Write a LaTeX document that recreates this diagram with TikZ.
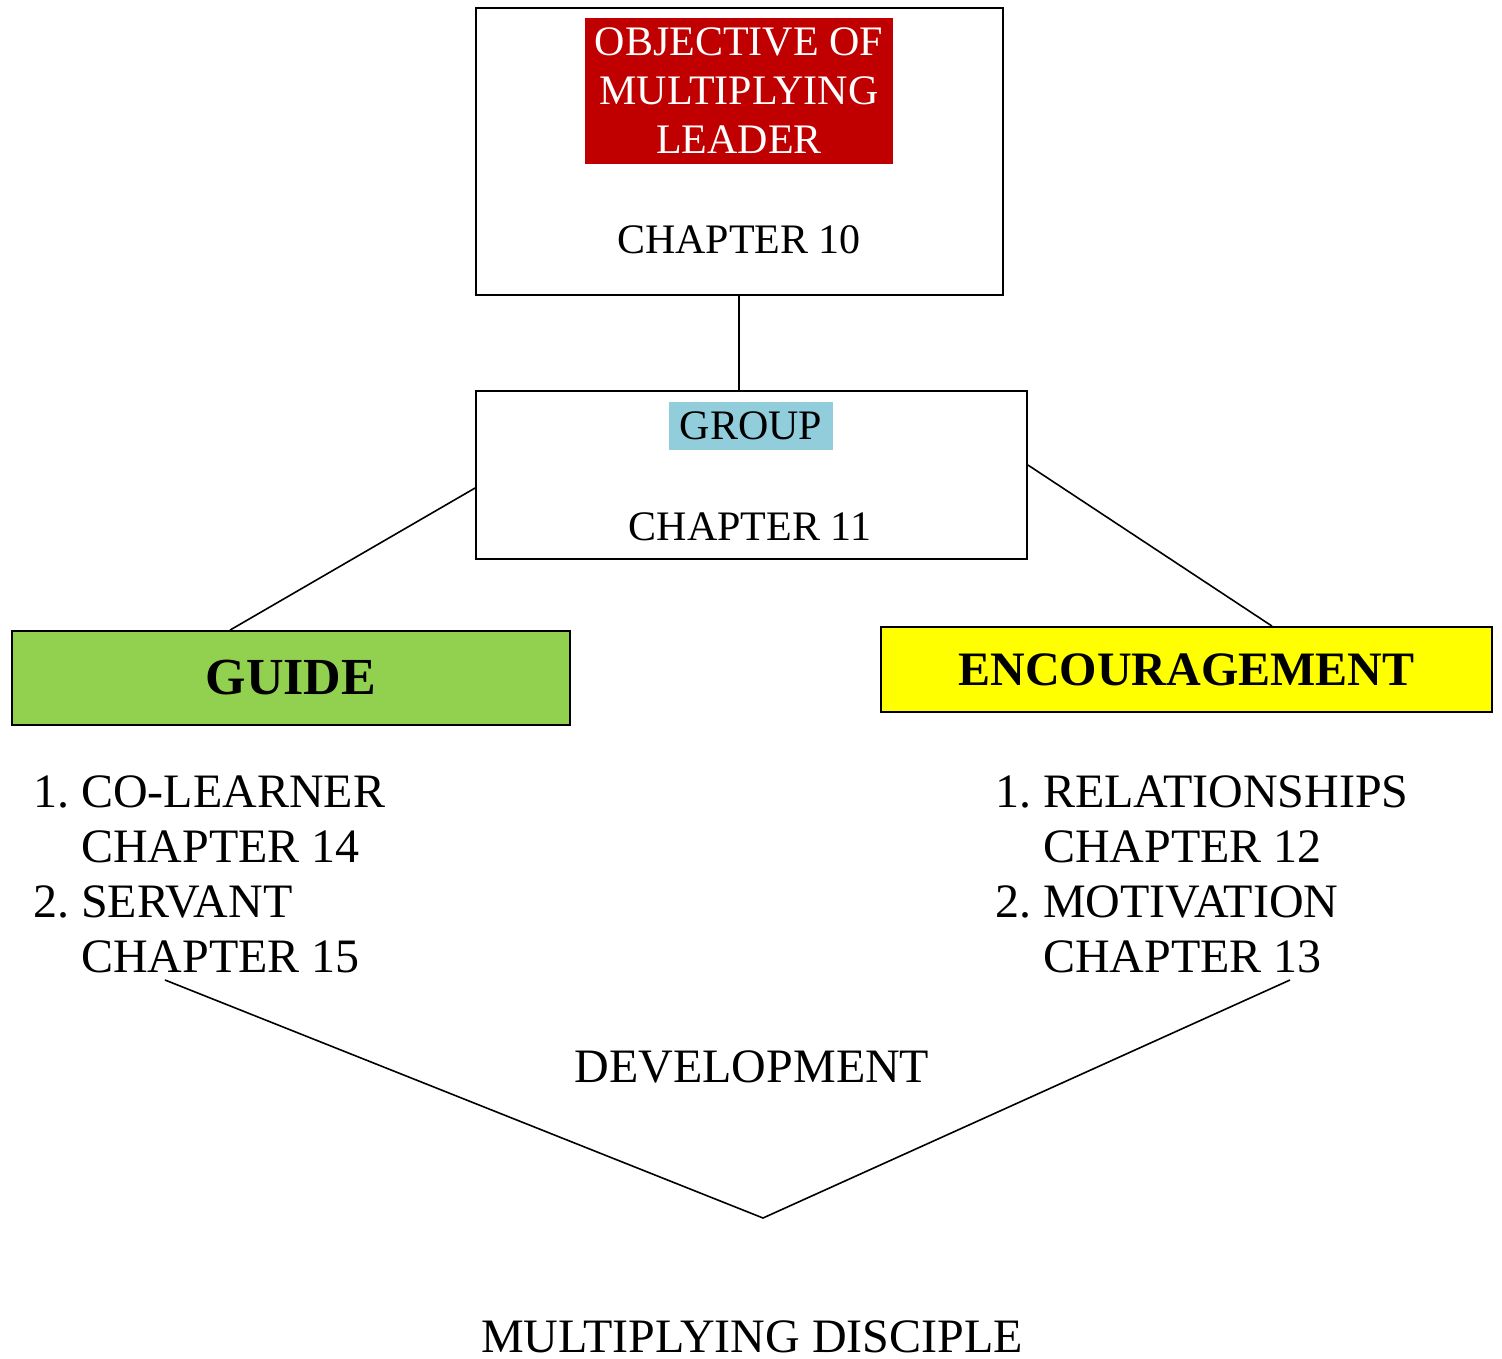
\documentclass[tikz,border=0pt]{standalone}
\usepackage{fontspec}
\setmainfont{Liberation Serif}
\usetikzlibrary{positioning}
\definecolor{objred}{HTML}{C00000}
\definecolor{groupblue}{HTML}{92CDDC}
\definecolor{guidegreen}{HTML}{92D050}
\definecolor{encyellow}{HTML}{FFFF00}
\begin{document}
\begin{tikzpicture}[x=1pt,y=-1pt,
  chapbox/.style={draw, line width=1.8pt, inner sep=0pt},
  link/.style={line width=1.6pt},
  mid/.style={font=\fontsize{42}{49}\selectfont, inner sep=0pt},
  big/.style={font=\fontsize{48}{55}\selectfont, inner sep=0pt},
  head/.style={font=\fontsize{52}{60}\selectfont\bfseries, inner sep=0pt}]

\useasboundingbox (0,0) rectangle (1502,1358);

\node(top)[chapbox, minimum width=527pt, minimum height=287pt] at (739.5,151.5){};

\node(obj)[mid, fill=objred, text=white, align=center, minimum width=308pt, minimum height=146pt] at (739,91){OBJECTIVE OF\\MULTIPLYING\\LEADER};

\node(ch10)[mid, anchor=base] at (739,253){CHAPTER 10};

\node(grp)[chapbox, minimum width=551pt, minimum height=168pt] at (751.5,475){};

\node(grouplbl)[mid, fill=groupblue, minimum width=164pt, minimum height=48pt] at (751,426){GROUP};

\node(ch11)[mid, anchor=base] at (750,540){CHAPTER 11};

\node(guide)[chapbox, fill=guidegreen, head, minimum width=558pt, minimum height=94pt] at (291,678){GUIDE};

\node(enc)[chapbox, fill=encyellow, head, font=\fontsize{48}{55}\selectfont\bfseries, minimum width=611pt, minimum height=85pt] at (1186.5,669.5){ENCOURAGEMENT};

% lists: base anchor sits on the last line
\node(guidelist)[big, anchor=base west, align=left] at (33,972){1.\ CO-LEARNER\\\phantom{1.\ }CHAPTER 14\\2.\ SERVANT\\\phantom{2.\ }CHAPTER 15};

\node(enclist)[big, anchor=base west, align=left] at (995,972){1.\ RELATIONSHIPS\\\phantom{1.\ }CHAPTER 12\\2.\ MOTIVATION\\\phantom{2.\ }CHAPTER 13};

\node(dev)[big, anchor=base] at (752,1082){DEVELOPMENT};

\node(disciple)[big, anchor=base] at (752,1352){MULTIPLYING DISCIPLE};

\coordinate(vleft) at (165,980);
\coordinate(vtip) at (763,1218);
\coordinate(vright) at (1290,980);

\draw[link] (top.south -| ch10) -- (ch10 |- grp.north);

\draw[link] ([yshift=-13pt]grp.west) -- ([xshift=-61pt]guide.north);

\draw[link] ([yshift=10pt]grp.east) -- ([xshift=85.5pt]enc.north);

\draw[link] (vleft) -- (vtip) -- (vright);

\end{tikzpicture}
\end{document}
